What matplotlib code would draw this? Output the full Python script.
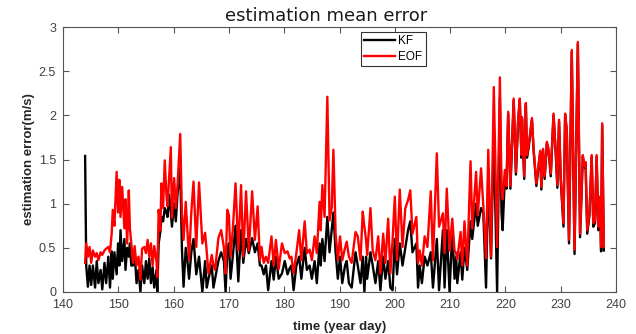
import matplotlib
matplotlib.use("Agg")
import matplotlib.pyplot as plt

# ---------------- data ----------------
day = [144.0, 144.2, 144.5, 144.8, 145.1, 145.4, 145.8, 146.1, 146.4, 146.8,
       147.1, 147.5, 147.8, 148.2, 148.5, 148.8, 149.0, 149.3, 149.7, 149.96,
       150.2, 150.4, 150.7, 151.1, 151.3, 151.6, 151.9, 152.1, 152.35, 152.65,
       152.95, 153.3, 153.65, 154.0, 154.3, 154.7, 155.0, 155.3, 155.6, 155.9,
       156.2, 156.5, 156.9, 157.05, 157.3, 157.6, 157.8, 158.1, 158.4, 158.7,
       158.9, 159.2, 159.5, 159.7, 160.1, 160.4, 160.7, 161.2, 161.5, 161.8,
       162.2, 162.5, 162.8, 163.2, 163.6, 164.1, 164.6, 165.2, 165.7, 166.0,
       166.3, 166.9, 167.2, 167.5, 168.1, 168.6, 169.1, 169.4, 169.7, 170.0,
       170.3, 170.7, 171.2, 171.7, 172.2, 172.6, 173.1, 173.6, 174.2, 174.7,
       175.2, 175.6, 175.9, 176.3, 176.7, 177.1, 177.7, 178.1, 178.5, 179.0,
       179.6, 180.1, 180.6, 181.0, 181.3, 181.7, 182.2, 182.7, 183.1, 183.7,
       184.1, 184.6, 185.0, 185.5, 185.9, 186.4, 186.6, 186.9, 187.3, 187.8,
       188.2, 188.6, 188.9, 189.3, 189.7, 190.1, 190.5, 191.0, 191.3, 191.7,
       192.2, 192.9, 193.3, 193.8, 194.2, 194.5, 194.8, 195.0, 195.6, 196.0,
       196.5, 197.0, 197.4, 197.9, 198.3, 198.8, 199.2, 199.6, 200.0, 200.4,
       200.9, 201.4, 201.9, 202.4, 202.8, 203.2, 203.9, 204.2, 204.5, 204.9,
       205.4, 205.9, 206.5, 206.9, 207.6, 208.0, 208.7, 209.0, 209.4, 209.9,
       210.4, 210.8, 211.1, 211.3, 211.9, 212.2, 212.6, 213.1, 213.7, 214.0,
       214.7, 215.0, 215.6, 216.0, 216.5, 216.9, 217.4, 217.9, 218.5, 219.0,
       219.3, 219.5, 219.9, 220.2, 220.5, 220.9, 221.5, 221.9, 222.3, 222.6,
       222.9, 223.0, 223.4, 223.7, 223.9, 224.2, 224.8, 225.1, 225.6, 226.3,
       226.5, 226.8, 227.1, 227.5, 227.8, 228.2, 228.7, 229.1, 229.4, 229.7,
       230.0, 230.5, 230.8, 231.1, 231.5, 232.0, 232.5, 233.1, 233.5, 234.0,
       234.3, 234.5, 234.8, 235.2, 235.6, 235.9, 236.2, 236.5, 236.8, 237.1,
       237.3, 237.5, 237.8]

eof_err = [0.33, 0.55, 0.40, 0.51, 0.33, 0.47, 0.40, 0.44, 0.36, 0.45,
           0.42, 0.47, 0.49, 0.51, 0.45, 0.66, 0.93, 0.75, 1.36, 0.90,
           1.27, 0.85, 1.19, 0.72, 1.05, 0.55, 1.15, 0.72, 0.55, 0.33,
           0.52, 0.30, 0.40, 0.14, 0.49, 0.51, 0.44, 0.59, 0.40, 0.55,
           0.30, 0.52, 0.35, 0.17, 0.93, 0.70, 1.23, 0.95, 1.49, 1.10,
           0.97, 1.30, 1.64, 0.84, 1.29, 0.95, 1.20, 1.79, 0.90, 0.59,
           1.02, 0.70, 0.36, 0.90, 1.25, 0.51, 1.24, 0.55, 0.67, 0.45,
           0.21, 0.42, 0.30, 0.25, 0.61, 0.70, 0.50, 0.21, 0.93, 0.87,
           0.40, 0.70, 1.23, 0.47, 1.21, 0.40, 1.14, 0.47, 1.14, 0.59,
           0.97, 0.36, 0.51, 0.33, 0.40, 0.33, 0.63, 0.30, 0.59, 0.26,
           0.55, 0.44, 0.46, 0.38, 0.40, 0.21, 0.44, 0.70, 0.36, 0.80,
           0.44, 0.48, 0.36, 0.63, 0.44, 1.02, 0.70, 1.21, 0.85, 2.21,
           0.81, 0.96, 1.61, 0.66, 0.36, 0.63, 0.36, 0.50, 0.57, 0.40,
           0.33, 0.68, 0.63, 0.36, 0.91, 0.74, 0.59, 0.42, 0.95, 0.47,
           0.36, 0.63, 0.21, 0.66, 0.33, 0.83, 0.21, 0.59, 1.08, 0.36,
           1.16, 0.51, 0.95, 1.04, 1.15, 0.66, 0.85, 0.33, 0.47, 0.30,
           0.63, 0.51, 1.14, 0.36, 1.57, 0.74, 0.89, 0.44, 1.17, 0.47,
           0.83, 0.47, 0.44, 0.37, 0.68, 0.30, 0.80, 0.30, 1.48, 0.72,
           1.36, 0.87, 1.40, 0.98, 0.38, 1.61, 0.40, 2.32, 0.51, 2.43,
           1.16, 1.05, 1.38, 1.20, 2.04, 1.20, 2.19, 1.36, 1.95, 2.19,
           1.55, 1.98, 1.31, 2.14, 1.55, 1.66, 1.97, 1.62, 1.23, 1.60,
           1.19, 1.62, 1.31, 1.70, 1.62, 1.34, 2.02, 1.59, 1.21, 1.95,
           1.31, 0.78, 2.02, 1.84, 0.59, 2.74, 0.48, 2.83, 0.66, 1.55,
           1.43, 1.47, 0.70, 0.89, 1.55, 0.78, 0.81, 1.55, 0.74, 1.08,
           0.51, 1.91, 0.51]

kf_err = [1.54, 0.30, 0.06, 0.30, 0.08, 0.30, 0.05, 0.35, 0.10, 0.25,
          0.03, 0.33, 0.10, 0.40, 0.05, 0.46, 0.15, 0.45, 0.20, 0.55,
          0.30, 0.70, 0.35, 0.60, 0.25, 0.50, 0.40, 0.55, 0.30, 0.30,
          0.45, 0.10, 0.25, 0.00, 0.30, 0.10, 0.35, 0.15, 0.38, 0.10,
          0.28, 0.05, 0.25, 0.00, 0.55, 0.68, 0.85, 0.80, 0.95, 0.90,
          0.85, 1.10, 0.90, 0.74, 1.00, 0.80, 1.10, 1.40, 0.50, 0.06,
          0.50, 0.35, 0.15, 0.45, 0.60, 0.20, 0.40, 0.00, 0.35, 0.05,
          0.15, 0.30, 0.05, 0.15, 0.35, 0.45, 0.35, 0.00, 0.45, 0.55,
          0.15, 0.40, 0.75, 0.12, 0.70, 0.33, 0.60, 0.44, 0.61, 0.45,
          0.55, 0.30, 0.30, 0.20, 0.30, 0.02, 0.35, 0.14, 0.40, 0.15,
          0.21, 0.35, 0.20, 0.27, 0.30, 0.02, 0.30, 0.40, 0.15, 0.50,
          0.25, 0.30, 0.15, 0.35, 0.10, 0.55, 0.30, 0.60, 0.35, 0.85,
          0.45, 0.70, 0.90, 0.45, 0.15, 0.40, 0.10, 0.30, 0.35, 0.10,
          0.05, 0.45, 0.30, 0.10, 0.40, 0.00, 0.40, 0.15, 0.45, 0.30,
          0.10, 0.35, 0.02, 0.40, 0.15, 0.35, 0.05, 0.02, 0.60, 0.20,
          0.55, 0.30, 0.50, 0.70, 0.80, 0.45, 0.55, 0.05, 0.30, 0.10,
          0.40, 0.30, 0.45, 0.05, 0.60, 0.02, 0.70, 0.05, 0.70, 0.00,
          0.70, 0.15, 0.40, 0.10, 0.45, 0.14, 0.50, 0.25, 0.80, 0.60,
          1.00, 0.75, 0.95, 0.90, 0.05, 1.30, 0.38, 1.80, 0.00, 2.20,
          0.90, 0.70, 1.30, 1.17, 2.02, 1.17, 2.17, 1.33, 1.93, 2.17,
          1.52, 1.96, 1.28, 2.12, 1.52, 1.63, 1.95, 1.60, 1.20, 1.58,
          1.16, 1.60, 1.28, 1.68, 1.60, 1.31, 2.00, 1.57, 1.18, 1.93,
          1.28, 0.74, 2.00, 1.82, 0.55, 2.72, 0.43, 2.81, 0.62, 1.53,
          1.41, 1.45, 0.66, 0.87, 1.53, 0.74, 0.78, 1.53, 0.70, 1.06,
          0.46, 1.89, 0.47]

x_ticks = [140, 150, 160, 170, 180, 190, 200, 210, 220, 230, 240]
y_ticks = [0, 0.5, 1, 1.5, 2, 2.5, 3]
y_tick_labels = ["0", "0.5", "1", "1.5", "2", "2.5", "3"]

# ---------------- figure ----------------
W, H = 636, 334
fig = plt.figure(figsize=(W / 100, H / 100), dpi=100)
ax = fig.add_axes([63 / W, 1 - 292 / H, 553 / W, 265 / H])

ax.plot(day, kf_err, color="black", lw=1.7, label="KF")
ax.plot(day, eof_err, color="#ff0000", lw=1.7, label="EOF")

ax.set_xlim(140, 240)
ax.set_ylim(0, 3)
ax.set_xticks(x_ticks)
ax.set_yticks(y_ticks)
ax.set_yticklabels(y_tick_labels)

tick_col = "#404040"
for s in ax.spines.values():
    s.set_color("#555555")
    s.set_linewidth(0.8)
ax.tick_params(direction="in", top=True, right=True, length=4, width=0.8,
               color="#555555", labelcolor=tick_col, labelsize=9, pad=5)
for lab in ax.get_xticklabels() + ax.get_yticklabels():
    lab.set_family("Liberation Sans")

ax.set_title("estimation mean error", fontsize=13, family="DejaVu Sans",
             color="#1a1a1a", x=0.475, pad=4)
ax.set_xlabel("time (year day)", fontsize=9.5, fontweight="bold",
              family="Liberation Sans", color="#262626", labelpad=7.5)
ax.set_ylabel("estimation error(m/s)", fontsize=9.5, fontweight="bold",
              family="Liberation Sans", color="#262626", labelpad=2.5)

leg = ax.legend(loc="upper left", bbox_to_anchor=(0.538, 0.982), frameon=True,
                fancybox=False, framealpha=1, edgecolor="#333333",
                prop={"family": "Liberation Sans", "size": 8.5},
                handlelength=2.6, handletextpad=0.3, borderpad=0.3,
                labelspacing=0.3, borderaxespad=0)
leg.get_frame().set_linewidth(0.8)

fig.savefig("out.png", dpi=100)
